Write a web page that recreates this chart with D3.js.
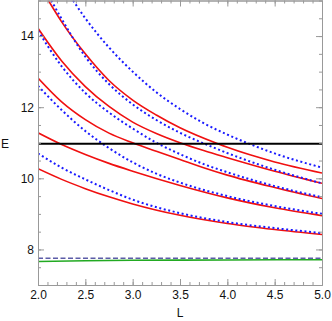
<!DOCTYPE html>
<html>
<head>
<meta charset="utf-8">
<script src="https://cdn.jsdelivr.net/npm/d3@7"></script>
<style>
  body { margin: 0; background: #fff; }
  text { font-family: "Liberation Sans", Arial, sans-serif; }
</style>
</head>
<body>
<script>
// values, [L, E]
const red1 = [[2.11, 15.0], [2.25, 14.4], [2.5, 13.5], [2.75, 12.75], [3.0, 12.2], [3.25, 11.78], [3.5, 11.42], [3.9, 10.97], [4.0, 10.87], [4.5, 10.46], [5.0, 10.15]];
const red2 = [[2.0, 14.22], [2.25, 13.3], [2.5, 12.58], [2.75, 12.02], [3.0, 11.58], [3.25, 11.26], [3.5, 11.0], [3.75, 10.78], [4.0, 10.58], [4.5, 10.2], [5.0, 9.86]];
const red3 = [[2.0, 12.82], [2.25, 12.15], [2.5, 11.65], [2.75, 11.27], [3.0, 11.0], [3.25, 10.76], [3.5, 10.53], [3.75, 10.3], [4.0, 10.09], [4.5, 9.74], [5.0, 9.43]];
const red4 = [[2.0, 11.28], [2.25, 10.95], [2.5, 10.67], [2.75, 10.42], [3.0, 10.2], [3.5, 9.8], [4.0, 9.45], [4.5, 9.17], [5.0, 8.95]];
const red5 = [[2.0, 10.27], [2.25, 9.97], [2.5, 9.71], [2.75, 9.48], [3.0, 9.28], [3.5, 8.96], [4.0, 8.73], [4.5, 8.56], [5.0, 8.42]];

const blue1 = [[2.37, 15.0], [2.5, 14.5], [2.75, 13.68], [3.0, 13.0], [3.25, 12.42], [3.5, 11.95], [3.75, 11.55], [4.0, 11.23], [4.25, 10.95], [4.5, 10.7], [5.0, 10.3]];
const blue2 = [[2.14, 15.0], [2.25, 14.48], [2.5, 13.42], [2.75, 12.65], [3.0, 12.08], [3.25, 11.64], [3.5, 11.28], [3.76, 10.97], [4.0, 10.71], [4.5, 10.24], [5.0, 9.86]];
const blue3 = [[2.0, 14.15], [2.25, 13.15], [2.5, 12.4], [2.75, 11.85], [3.0, 11.4], [3.25, 11.0], [3.5, 10.68], [3.75, 10.4], [4.0, 10.17], [4.5, 9.78], [5.0, 9.47]];
const blue4 = [[2.0, 12.6], [2.25, 11.92], [2.5, 11.33], [2.75, 10.85], [3.0, 10.45], [3.25, 10.13], [3.5, 9.88], [4.0, 9.5], [4.5, 9.22], [5.0, 9.0]];
const blue5 = [[2.0, 10.7], [2.25, 10.3], [2.5, 9.97], [2.75, 9.67], [3.0, 9.4], [3.5, 9.02], [4.0, 8.77], [4.5, 8.6], [5.0, 8.46]];

const greenLine = [[2.0, 7.66], [2.5, 7.68], [3.0, 7.695], [3.5, 7.7], [4.0, 7.705], [5.0, 7.71]];
const dashedLine = [[2.0, 7.75], [5.0, 7.75]];
const blackLine = [[2.0, 10.97], [5.0, 10.97]];

const xMajor = [2.0, 2.5, 3.0, 3.5, 4.0, 4.5, 5.0];
const yMajor = [8, 10, 12, 14];

const width = 332, height = 321;
const margin = {top: 0.5, right: 10, bottom: 36, left: 38};

const svg = d3.select("body").append("svg")
    .attr("width", width)
    .attr("height", height);

const x = d3.scaleLinear().domain([2, 5]).range([margin.left, width - margin.right]);
const y = d3.scaleLinear().domain([7, 15]).range([height - margin.bottom, margin.top]);

svg.append("clipPath").attr("id", "plotclip")
    .append("rect")
    .attr("x", x(2)).attr("y", y(15))
    .attr("width", x(5) - x(2)).attr("height", y(7) - y(15));

const line = d3.line()
    .x(d => x(d[0]))
    .y(d => y(d[1]))
    .curve(d3.curveMonotoneX);

const plot = svg.append("g").attr("clip-path", "url(#plotclip)");

// solid red levels
[red1, red2, red3, red4, red5].forEach(s => {
    plot.append("path")
        .attr("d", line(s))
        .attr("fill", "none")
        .attr("stroke", "#f01010")
        .attr("stroke-width", 1.6);
});

// dotted blue levels
[blue1, blue2, blue3, blue4, blue5].forEach(s => {
    plot.append("path")
        .attr("d", line(s))
        .attr("fill", "none")
        .attr("stroke", "#1a1aff")
        .attr("stroke-width", 2)
        .attr("stroke-dasharray", "2,2.6");
});

plot.append("path")
    .attr("d", line(greenLine))
    .attr("fill", "none")
    .attr("stroke", "#22aa22")
    .attr("stroke-width", 1.6);

plot.append("path")
    .attr("d", line(dashedLine))
    .attr("fill", "none")
    .attr("stroke", "#5c5ca8")
    .attr("stroke-width", 1.5)
    .attr("stroke-dasharray", "5,2.5");

plot.append("path")
    .attr("d", line(blackLine))
    .attr("fill", "none")
    .attr("stroke", "#000")
    .attr("stroke-width", 2);

// frame with inward ticks, mathematica style
function styleAxis(g) {
    g.select(".domain").attr("stroke", "#999");
    g.selectAll(".tick line").attr("stroke", "#999");
    g.selectAll(".tick text").attr("fill", "#111").style("font-size", "12px")
        .style("font-family", "'Liberation Sans', Arial, sans-serif");
}

const xMinor = d3.range(20, 51).map(v => v / 10);
const yMinor = d3.range(14, 31).map(v => v / 2);

svg.append("g")
    .attr("transform", `translate(0,${y(7)})`)
    .call(d3.axisBottom(x).tickValues(xMinor).tickFormat("").tickSizeInner(-3).tickSizeOuter(0))
    .call(styleAxis);
svg.append("g")
    .attr("transform", `translate(0,${y(7)})`)
    .call(d3.axisBottom(x).tickValues(xMajor).tickFormat(d3.format(".1f")).tickSizeInner(-6).tickSizeOuter(0).tickPadding(5))
    .call(styleAxis);

svg.append("g")
    .attr("transform", `translate(0,${y(15)})`)
    .call(d3.axisTop(x).tickValues(xMinor).tickFormat("").tickSizeInner(-3).tickSizeOuter(0))
    .call(styleAxis);
svg.append("g")
    .attr("transform", `translate(0,${y(15)})`)
    .call(d3.axisTop(x).tickValues(xMajor).tickFormat("").tickSizeInner(-6).tickSizeOuter(0))
    .call(styleAxis);

svg.append("g")
    .attr("transform", `translate(${x(2)},0)`)
    .call(d3.axisLeft(y).tickValues(yMinor).tickFormat("").tickSizeInner(-3).tickSizeOuter(0))
    .call(styleAxis);
svg.append("g")
    .attr("transform", `translate(${x(2)},0)`)
    .call(d3.axisLeft(y).tickValues(yMajor).tickFormat(d3.format("d")).tickSizeInner(-6).tickSizeOuter(0).tickPadding(4))
    .call(styleAxis);

svg.append("g")
    .attr("transform", `translate(${x(5)},0)`)
    .call(d3.axisRight(y).tickValues(yMinor).tickFormat("").tickSizeInner(-3).tickSizeOuter(0))
    .call(styleAxis);
svg.append("g")
    .attr("transform", `translate(${x(5)},0)`)
    .call(d3.axisRight(y).tickValues(yMajor).tickFormat("").tickSizeInner(-6).tickSizeOuter(0))
    .call(styleAxis);

// axis labels
svg.append("text")
    .attr("x", 5)
    .attr("y", y(10.97))
    .attr("dy", "0.35em")
    .attr("text-anchor", "middle")
    .style("font-size", "12px")
    .attr("fill", "#111")
    .text("E");

svg.append("text")
    .attr("x", x(3.5))
    .attr("y", 317)
    .attr("text-anchor", "middle")
    .style("font-size", "12px")
    .attr("fill", "#111")
    .text("L");
</script>
</body>
</html>
